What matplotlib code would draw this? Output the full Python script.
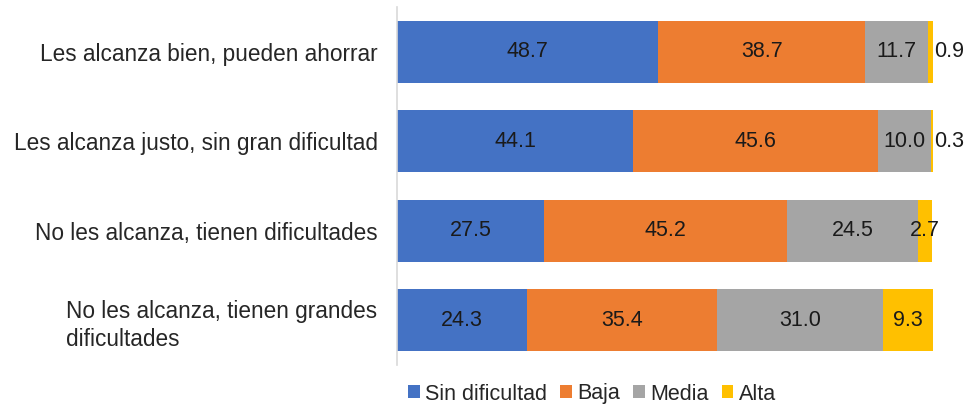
import matplotlib
matplotlib.use("Agg")
import matplotlib.pyplot as plt
import numpy as np

categories = [
    "Les alcanza bien, pueden ahorrar",
    "Les alcanza justo, sin gran dificultad",
    "No les alcanza, tienen dificultades",
    "No les alcanza, tienen grandes\ndificultades",
]
series_names = ["Sin dificultad", "Baja", "Media", "Alta"]
sin_dificultad = [48.7, 44.1, 27.5, 24.3]
baja = [38.7, 45.6, 45.2, 35.4]
media = [11.7, 10.0, 24.5, 31.0]
alta = [0.9, 0.3, 2.7, 9.3]
colors = ["#4472C4", "#ED7D31", "#A5A5A5", "#FFC000"]

plt.rcParams['font.family'] = ['Liberation Sans', 'DejaVu Sans']
FS = 15.5

fig = plt.figure(figsize=(9.69, 4.09), dpi=100)
ax = fig.add_axes([397/969, 1-365/409, 536/969, 358/409])

y = np.arange(len(categories))
left = np.zeros(len(categories))
for name, vals, c in zip(series_names, [sin_dificultad, baja, media, alta], colors):
    vals = np.array(vals)
    ax.barh(y, vals, left=left, height=0.69, color=c, label=name)
    for yi, l, v in zip(y, left, vals):
        if v < 1.5:
            ax.text(l + v + 0.2, yi, f"{v:.1f}", ha='left', va='center',
                    fontsize=FS, color='#1a1a1a')
        else:
            ax.text(l + v/2, yi, f"{v:.1f}", ha='center', va='center',
                    fontsize=FS, color='#1a1a1a')
    left += vals

ax.set_xlim(0, 100)
ax.set_ylim(len(categories) - 0.5, -0.5)
ax.set_yticks(y)
ax.set_yticklabels(categories, fontsize=16.3, color='#262626')
for lab in ax.get_yticklabels():
    lab.set_multialignment('left')
    lab.set_linespacing(1.3)
ax.tick_params(axis='y', length=0, pad=14)
ax.set_xticks([])
for s in ['top', 'right', 'bottom']:
    ax.spines[s].set_visible(False)
ax.spines['left'].set_color('#D9D9D9')
ax.spines['left'].set_linewidth(1.2)

fig.legend(loc='center', bbox_to_anchor=(592/969, 1-394/409), ncol=4, frameon=False,
           fontsize=FS, handlelength=0.55, handleheight=0.55, handletextpad=0.25,
           columnspacing=0.6, labelcolor='#262626')

fig.savefig("out.png", dpi=100)
